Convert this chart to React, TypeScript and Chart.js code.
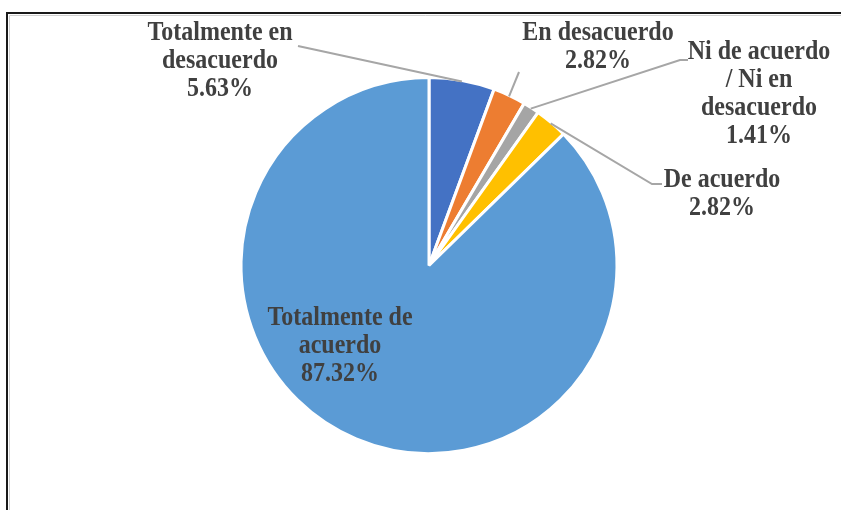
import React, { useEffect, useRef } from "react";
import { Chart, registerables } from "chart.js";

Chart.register(...registerables);

const categories = [
  "Totalmente en desacuerdo",
  "En desacuerdo",
  "Ni de acuerdo / Ni en desacuerdo",
  "De acuerdo",
  "Totalmente de acuerdo",
];
const percentValues = [5.63, 2.82, 1.41, 2.82, 87.32];
const sliceColors = ["#4472C4", "#ED7D31", "#A5A5A5", "#FFC000", "#5B9BD5"];
const labelLines = [
  ["Totalmente en", "desacuerdo", "5.63%"],
  ["En desacuerdo", "2.82%"],
  ["Ni de acuerdo", "/ Ni en", "desacuerdo", "1.41%"],
  ["De acuerdo", "2.82%"],
  ["Totalmente de", "acuerdo", "87.32%"],
];

// label layout (pixels in canvas space): text centre x, first line centre y,
// leader path points from label side (empty = no leader)
const labelLayout = [
  { x: 220, y: 33, leader: [[298, 46]] },
  { x: 598, y: 33, leader: [[519, 72]] },
  { x: 759, y: 52, leader: [[688, 60], [680, 60]] },
  { x: 722, y: 180, leader: [[662, 184], [652, 184]] },
  { x: 340, y: 318, leader: [] },
];

const LINE_H = 28;

const labelPlugin = {
  id: "pieLabels",
  afterDatasetsDraw(chart: any) {
    const ctx = chart.ctx as CanvasRenderingContext2D;
    const meta = chart.getDatasetMeta(0);
    ctx.save();
    // frame
    ctx.strokeStyle = "#d0d0d0";
    ctx.lineWidth = 1;
    ctx.beginPath();
    ctx.moveTo(9.5, 520);
    ctx.lineTo(9.5, 15.5);
    ctx.lineTo(841, 15.5);
    ctx.stroke();
    ctx.strokeStyle = "#1a1a1a";
    ctx.lineWidth = 2;
    ctx.beginPath();
    ctx.moveTo(7, 520);
    ctx.lineTo(7, 13);
    ctx.lineTo(841, 13);
    ctx.stroke();

    meta.data.forEach((arc: any, i: number) => {
      const lay = labelLayout[i];
      const p = arc.getProps(["x", "y", "startAngle", "endAngle", "outerRadius"], true);
      const mid = (p.startAngle + p.endAngle) / 2;
      if (lay.leader.length) {
        const ex = p.x + Math.cos(mid) * (p.outerRadius - 1);
        const ey = p.y + Math.sin(mid) * (p.outerRadius - 1);
        ctx.strokeStyle = "#A6A6A6";
        ctx.lineWidth = 2;
        ctx.beginPath();
        ctx.moveTo(lay.leader[0][0], lay.leader[0][1]);
        for (let k = 1; k < lay.leader.length; k++) ctx.lineTo(lay.leader[k][0], lay.leader[k][1]);
        ctx.lineTo(ex, ey);
        ctx.stroke();
      }
      ctx.fillStyle = "#404040";
      ctx.font = "bold 24px 'Liberation Serif', 'Times New Roman', serif";
      ctx.textAlign = "center";
      ctx.textBaseline = "middle";
      labelLines[i].forEach((t, j) => {
        const cy = lay.y + j * LINE_H;
        ctx.save();
        ctx.translate(lay.x, cy);
        ctx.scale(1, 1.12);
        ctx.fillText(t, 0, 0);
        ctx.restore();
      });
    });
    ctx.restore();
  },
};

export default function App() {
  const ref = useRef<HTMLCanvasElement>(null);
  useEffect(() => {
    document.body.style.margin = "0";
    const chart = new Chart(ref.current!, {
      type: "pie",
      data: {
        labels: categories,
        datasets: [
          {
            data: percentValues,
            backgroundColor: sliceColors,
            borderColor: "#FFFFFF",
            borderWidth: 3,
          },
        ],
      },
      options: {
        animation: false,
        responsive: false,
        layout: { padding: { top: 76, bottom: 55, left: 100, right: 83 } },
        plugins: { legend: { display: false }, tooltip: { enabled: false } },
      },
      plugins: [labelPlugin],
    });
    return () => chart.destroy();
  }, []);
  return (
    <div style={{ width: 841, height: 510, background: "#fff" }}>
      <canvas ref={ref} width={841} height={510} />
    </div>
  );
}
